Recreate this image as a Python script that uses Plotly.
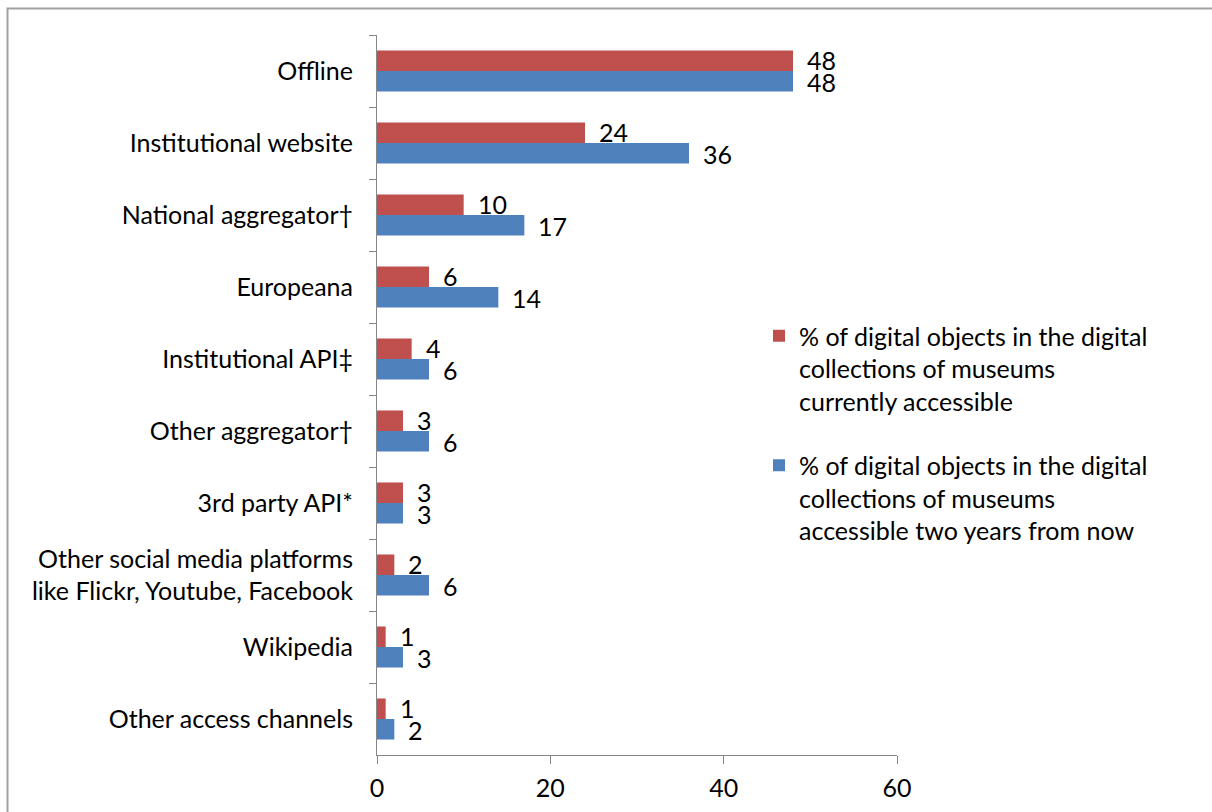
import plotly.graph_objects as go

# Access channels, listed from top to bottom
channels = [
    "Offline",
    "Institutional website",
    "National aggregator†",
    "Europeana",
    "Institutional API‡",
    "Other aggregator†",
    "3rd party API*",
    "Other social media platforms<br>like Flickr, Youtube, Facebook",
    "Wikipedia",
    "Other access channels",
]
current_pct = [48, 24, 10, 6, 4, 3, 3, 2, 1, 1]
two_years_pct = [48, 36, 17, 14, 6, 6, 3, 6, 3, 2]

series_names = [
    "% of digital objects in the digital<br>collections of museums<br>currently accessible",
    "% of digital objects in the digital<br>collections of museums<br>accessible two years from now",
]
x_ticks = [0, 20, 40, 60]

RED = "#C0504D"
BLUE = "#4F81BD"
AXIS = "#868686"
FONT = "Lato, Carlito, Calibri, sans-serif"
FS = 25

W, H = 1212, 812
L, R, T, B = 377, 315, 35, 57

fig = go.Figure()
for k, (name, vals, col) in enumerate([(series_names[0], current_pct, RED),
                                       (series_names[1], two_years_pct, BLUE)]):
    fig.add_trace(go.Bar(
        y=channels, x=vals, name=name, orientation="h", legendgroup=f"g{k}",
        marker=dict(color=col, line=dict(width=0)),
    ))

# value labels just past the end of each bar
annotations = []
for vals, off in [(current_pct, -0.15), (two_years_pct, 0.155)]:
    for i, v in enumerate(vals):
        annotations.append(dict(
            x=v, y=i + off, xref="x", yref="y", text=str(v),
            showarrow=False, xanchor="left", yanchor="middle", xshift=13,
            borderpad=0,
            font=dict(family=FONT, size=FS, color="black"),
        ))

# light grey frame around the chart
pw, ph = W - L - R, H - T - B
frame = dict(
    type="rect", xref="paper", yref="paper",
    x0=(7.5 - L) / pw, x1=(W + 10 - L) / pw,
    y0=(H - B - (H + 10)) / ph, y1=(H - B - 8.5) / ph,
    line=dict(color="#A0A0A0", width=2), fillcolor="rgba(0,0,0,0)", layer="below",
)

fig.update_layout(
    width=W, height=H,
    margin=dict(l=L, r=R, t=T, b=B),
    paper_bgcolor="white", plot_bgcolor="white",
    barmode="group", bargap=0.43, bargroupgap=0,
    font=dict(family=FONT, size=FS, color="black"),
    annotations=annotations,
    shapes=[frame],
    showlegend=True,
    legend=dict(
        x=(759 - L) / pw, y=(H - B - 313) / ph, xanchor="left", yanchor="top",
        font=dict(family=FONT, size=FS, color="black"),
        tracegroupgap=29, itemwidth=30, valign="top", bgcolor="rgba(0,0,0,0)",
    ),
    xaxis=dict(
        range=[0, 60], tickvals=x_ticks, ticktext=[str(t) for t in x_ticks],
        showgrid=False, zeroline=False, showline=True, linecolor=AXIS, linewidth=1,
        ticks="outside", ticklen=8, tickcolor=AXIS, tickwidth=1, ticklabelstandoff=3,
        automargin=False,
        tickfont=dict(family=FONT, size=FS, color="black"),
    ),
    yaxis=dict(
        autorange="reversed", type="category",
        showgrid=False, showline=True, linecolor=AXIS, linewidth=1,
        ticks="outside", ticklen=7, tickcolor=AXIS, tickwidth=1, tickson="boundaries",
        ticklabelstandoff=18, automargin=False,
        tickfont=dict(family=FONT, size=FS, color="black"),
    ),
)

fig.write_html("out.html")
